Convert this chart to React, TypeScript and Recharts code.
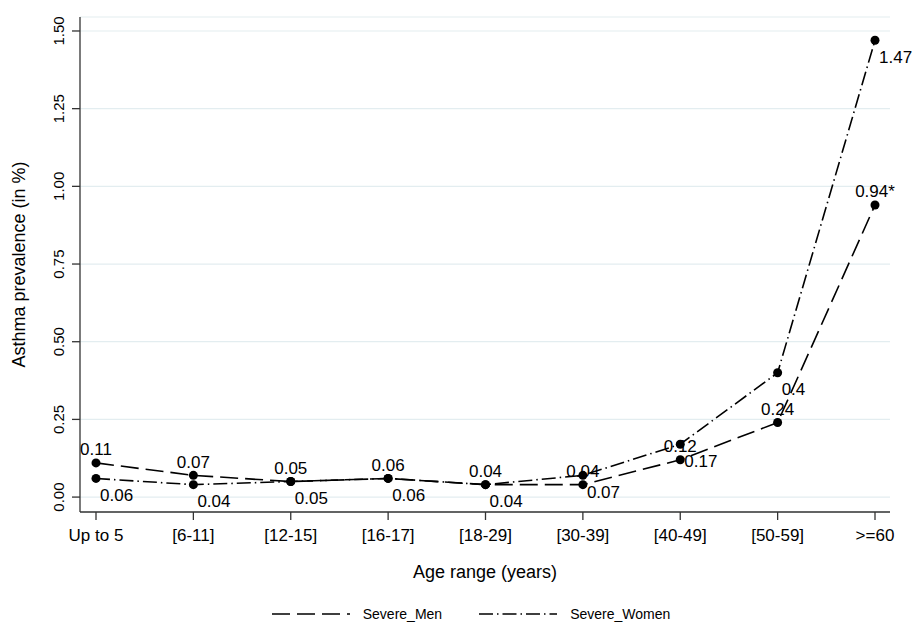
import { LineChart, Line, XAxis, YAxis, CartesianGrid, Legend, LabelList, Label } from 'recharts';

const ageGroups = ['Up to 5', '[6-11]', '[12-15]', '[16-17]', '[18-29]', '[30-39]', '[40-49]', '[50-59]', '>=60'];
const severeMen = [0.11, 0.07, 0.05, 0.06, 0.04, 0.04, 0.12, 0.24, 0.94];
const severeWomen = [0.06, 0.04, 0.05, 0.06, 0.04, 0.07, 0.17, 0.4, 1.47];
const menMarks = ['', '', '', '', '', '', '', '', '*'];
const yTicks = [0, 0.25, 0.5, 0.75, 1, 1.25, 1.5];

const data = ageGroups.map((age, i) => ({ age, men: severeMen[i], women: severeWomen[i] }));

const FONT = '"Liberation Sans", Arial, Helvetica, sans-serif';
const MEN_DASH = '18 7';
const WOMEN_DASH = '14 4 1.5 4';

const MenLabel = (props: any) => {
  const { x, y, value, index } = props;
  return (
    <text x={x} y={y - 13} textAnchor="middle" dominantBaseline="central" fontSize={17} fill="#000">
      {String(value) + menMarks[index]}
    </text>
  );
};

const WomenLabel = (props: any) => {
  const { x, y, value } = props;
  return (
    <text x={x + 4} y={y + 17} textAnchor="start" dominantBaseline="central" fontSize={17} fill="#000">
      {String(value)}
    </text>
  );
};

// rotated tick labels, baseline sits just left of the tick marks
const YTick = (props: any) => {
  const { y, payload } = props;
  const x = 64;
  return (
    <text x={x} y={y} transform={`rotate(-90 ${x} ${y})`} textAnchor="middle" fontSize={15} fill="#000">
      {payload.value.toFixed(2)}
    </text>
  );
};

const YTitle = (props: any) => {
  const vb = props.viewBox;
  const cx = 25;
  const cy = vb.y + vb.height / 2;
  return (
    <text x={cx} y={cy} transform={`rotate(-90 ${cx} ${cy})`} textAnchor="middle" fontSize={18} fill="#000">
      Asthma prevalence (in %)
    </text>
  );
};

const XTitle = (props: any) => {
  const vb = props.viewBox;
  return (
    <text x={vb.x + vb.width / 2} y={vb.y + 66} textAnchor="middle" fontSize={18} fill="#000">
      Age range (years)
    </text>
  );
};

const renderLegend = () => {
  const item = (dash: string, name: string) => (
    <div style={{ display: 'flex', alignItems: 'center' }}>
      <svg width={78} height={6}>
        <line x1={0} y1={3} x2={78} y2={3} stroke="#000" strokeWidth={1.6} strokeDasharray={dash} />
      </svg>
      <span style={{ marginLeft: 13, fontSize: 14, color: '#000' }}>{name}</span>
    </div>
  );
  return (
    <div style={{ display: 'flex', justifyContent: 'center', gap: 37, paddingTop: 18, paddingLeft: 52, fontFamily: FONT }}>
      {item(MEN_DASH, 'Severe_Men')}
      {item(WOMEN_DASH, 'Severe_Women')}
    </div>
  );
};

export default function App() {
  return (
    <div style={{ position: 'absolute', left: 0, top: 0, width: 918, height: 628, background: '#fff', fontFamily: FONT }}>
      <LineChart width={918} height={628} data={data} margin={{ top: 17, right: 28, bottom: 0, left: 0 }} style={{ fontFamily: FONT }}>
        <CartesianGrid vertical={false} stroke="#e3edf0" strokeWidth={1.2} />
        <XAxis
          dataKey="age"
          padding={{ left: 16, right: 15 }}
          height={76}
          tickSize={8}
          tickMargin={9}
          interval={0}
          tick={{ fill: '#000', fontSize: 17 }}
          axisLine={{ stroke: '#333', strokeWidth: 1.3 }}
          tickLine={{ stroke: '#333', strokeWidth: 1.3 }}
        >
          <Label content={XTitle} />
        </XAxis>
        <YAxis
          width={80}
          domain={[-0.048, 1.545]}
          ticks={yTicks}
          allowDataOverflow
          tickSize={8}
          tick={YTick}
          axisLine={{ stroke: '#333', strokeWidth: 1.3 }}
          tickLine={{ stroke: '#333', strokeWidth: 1.3 }}
        >
          <Label content={YTitle} />
        </YAxis>
        <Legend verticalAlign="bottom" height={40} content={renderLegend} />
        <Line
          type="linear"
          dataKey="men"
          name="Severe_Men"
          stroke="#000"
          strokeWidth={1.6}
          strokeDasharray={MEN_DASH}
          dot={{ r: 4.5, fill: '#000', stroke: 'none', strokeDasharray: '' }}
          isAnimationActive={false}
        >
          <LabelList dataKey="men" content={MenLabel} />
        </Line>
        <Line
          type="linear"
          dataKey="women"
          name="Severe_Women"
          stroke="#000"
          strokeWidth={1.6}
          strokeDasharray={WOMEN_DASH}
          dot={{ r: 4.5, fill: '#000', stroke: 'none', strokeDasharray: '' }}
          isAnimationActive={false}
        >
          <LabelList dataKey="women" content={WomenLabel} />
        </Line>
      </LineChart>
    </div>
  );
}
